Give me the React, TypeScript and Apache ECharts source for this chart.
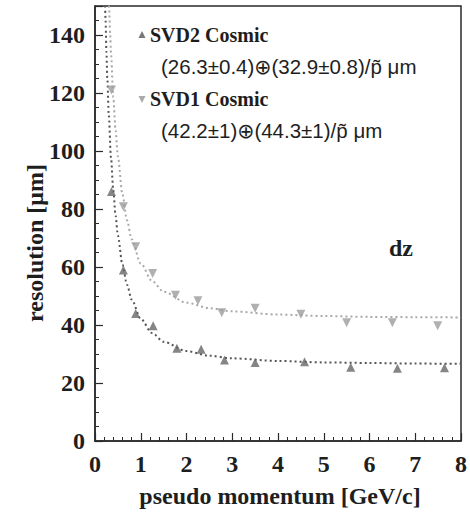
import React, { useEffect, useRef } from "react";
import * as echarts from "echarts";

// Measured points (pseudo momentum [GeV/c], resolution [um])
const svd2P = [0.36, 0.62, 0.89, 1.27, 1.79, 2.32, 2.83, 3.5, 4.58, 5.59, 6.61, 7.64];
const svd2Res = [86, 59, 44, 39.7, 32, 31.6, 27.9, 27.1, 27.3, 25.4, 25.1, 25.3];
const svd1P = [0.36, 0.62, 0.89, 1.26, 1.76, 2.25, 2.77, 3.5, 4.5, 5.5, 6.5, 7.49];
const svd1Res = [121, 80.8, 67, 57.8, 50.3, 48.4, 44.2, 45.8, 43.7, 40.8, 40.8, 39.7];

// Fit curves as drawn (dotted)
const svd2FitP = [0.22, 0.23, 0.25, 0.27, 0.3, 0.35, 0.4, 0.45, 0.5, 0.6, 0.7, 0.8, 1.0, 1.25, 1.5, 2, 2.5, 3, 4, 5, 6, 7, 8];
const svd2FitRes = [151.8, 145.4, 134.2, 124.7, 112.8, 97.6, 86.4, 77.7, 70.9, 60.8, 53.9, 48.8, 42.1, 37.2, 34.2, 31.0, 29.4, 28.5, 27.6, 27.1, 26.9, 26.7, 26.6];
const svd1FitP = [0.3, 0.31, 0.33, 0.35, 0.4, 0.45, 0.5, 0.6, 0.7, 0.8, 1.0, 1.25, 1.5, 2, 2.5, 3, 4, 5, 6, 7, 8];
const svd1FitRes = [153.6, 149.0, 140.7, 133.4, 118.5, 107.1, 98.1, 85.0, 76.1, 69.6, 61.2, 55.1, 51.5, 47.7, 45.8, 44.7, 43.6, 43.1, 42.8, 42.7, 42.6];

const legendTitles = ["SVD2 Cosmic", "SVD1 Cosmic"];
const legendFormulas = ["(26.3±0.4)⊕(32.9±0.8)/p\u0303 μm", "(42.2±1)⊕(44.3±1)/p\u0303 μm"];
const xName = "pseudo momentum [GeV/c]";
const yName = "resolution [μm]";
const panelLabel = "dz";

const zip = (a: number[], b: number[]) => a.map((v, i) => [v, b[i]]);

const AXIS = "#2a2a2a";
const TEXT = "#1e1e1e";
const SERIF = "'Liberation Serif', 'DejaVu Serif', serif";
const SANS = "'Liberation Sans', 'DejaVu Sans', sans-serif";

export default function App() {
  const ref = useRef<HTMLDivElement>(null);
  useEffect(() => {
    if (!ref.current) return;
    const chart = echarts.init(ref.current, undefined, { renderer: "svg" });
    const axisCommon = {
      axisLine: { show: true, lineStyle: { color: AXIS, width: 1.5 } },
      axisTick: { show: true, inside: true, length: 8, lineStyle: { color: AXIS, width: 1.2 } },
      minorTick: { show: true, length: 4, lineStyle: { color: AXIS, width: 1 } },
      splitLine: { show: false },
      minorSplitLine: { show: false },
    };
    chart.setOption({
      animation: false,
      backgroundColor: "#ffffff",
      grid: {
        left: 95,
        right: 8,
        top: 6,
        bottom: 76,
        show: true,
        borderColor: AXIS,
        borderWidth: 1.5,
        backgroundColor: "transparent",
      },
      xAxis: {
        type: "value",
        min: 0,
        max: 8,
        interval: 1,
        ...axisCommon,
        minorTick: { ...axisCommon.minorTick, splitNumber: 5 },
        axisLabel: {
          fontFamily: SERIF,
          fontWeight: "bold",
          fontSize: 24,
          color: TEXT,
          margin: 11,
        },
      },
      yAxis: {
        type: "value",
        min: 0,
        max: 150,
        interval: 20,
        ...axisCommon,
        minorTick: { ...axisCommon.minorTick, splitNumber: 4 },
        axisLabel: {
          fontFamily: SERIF,
          fontWeight: "bold",
          fontSize: 24,
          color: TEXT,
          margin: 10,
          showMaxLabel: false,
        },
      },
      series: [
        {
          type: "line",
          data: zip(svd1FitP, svd1FitRes),
          showSymbol: false,
          smooth: 0.3,
          smoothMonotone: "x",
          clip: true,
          lineStyle: { color: "#a8a8a8", width: 2, type: [2, 3] },
          z: 2,
        },
        {
          type: "line",
          data: zip(svd2FitP, svd2FitRes),
          showSymbol: false,
          smooth: 0.3,
          smoothMonotone: "x",
          clip: true,
          lineStyle: { color: "#555555", width: 2, type: [2, 3] },
          z: 2,
        },
        {
          type: "scatter",
          data: zip(svd1P, svd1Res),
          symbol: "triangle",
          symbolRotate: 180,
          symbolSize: [9, 9],
          itemStyle: { color: "#9c9c9c" },
          z: 3,
        },
        {
          type: "scatter",
          data: zip(svd2P, svd2Res),
          symbol: "triangle",
          symbolSize: [9, 9],
          itemStyle: { color: "#666666" },
          z: 3,
        },
      ],
      graphic: [
        {
          type: "polygon",
          shape: { points: [[142, 31], [138.5, 38], [145.5, 38]] },
          style: { fill: "#777777" },
        },
        {
          type: "text",
          x: 150,
          y: 35,
          style: { text: legendTitles[0], fontFamily: SERIF, fontWeight: "bold", fontSize: 20, fill: TEXT, textVerticalAlign: "middle" },
        },
        {
          type: "text",
          x: 161,
          y: 66,
          style: { text: legendFormulas[0], fontFamily: SANS, fontSize: 20.5, fill: TEXT, textVerticalAlign: "middle" },
        },
        {
          type: "polygon",
          shape: { points: [[138.5, 96], [145.5, 96], [142, 103]] },
          style: { fill: "#aaaaaa" },
        },
        {
          type: "text",
          x: 150,
          y: 99,
          style: { text: legendTitles[1], fontFamily: SERIF, fontWeight: "bold", fontSize: 20, fill: TEXT, textVerticalAlign: "middle" },
        },
        {
          type: "text",
          x: 161,
          y: 130,
          style: { text: legendFormulas[1], fontFamily: SANS, fontSize: 20.5, fill: TEXT, textVerticalAlign: "middle" },
        },
        {
          type: "text",
          x: 401,
          y: 248,
          style: { text: panelLabel, fontFamily: SERIF, fontWeight: "bold", fontSize: 24, fill: TEXT, textAlign: "center", textVerticalAlign: "middle" },
        },
        {
          type: "text",
          x: 280,
          y: 496,
          style: { text: xName, fontFamily: SERIF, fontWeight: "bold", fontSize: 24, fill: TEXT, textAlign: "center", textVerticalAlign: "middle" },
        },
        {
          type: "text",
          x: 35,
          y: 243,
          rotation: Math.PI / 2,
          style: { text: yName, fontFamily: SERIF, fontWeight: "bold", fontSize: 24, fill: TEXT, textAlign: "center", textVerticalAlign: "middle" },
        },
      ],
    });
    return () => chart.dispose();
  }, []);
  return (
    <div
      ref={ref}
      style={{ position: "fixed", left: 0, top: 0, width: 470, height: 517, background: "#fff" }}
    />
  );
}
